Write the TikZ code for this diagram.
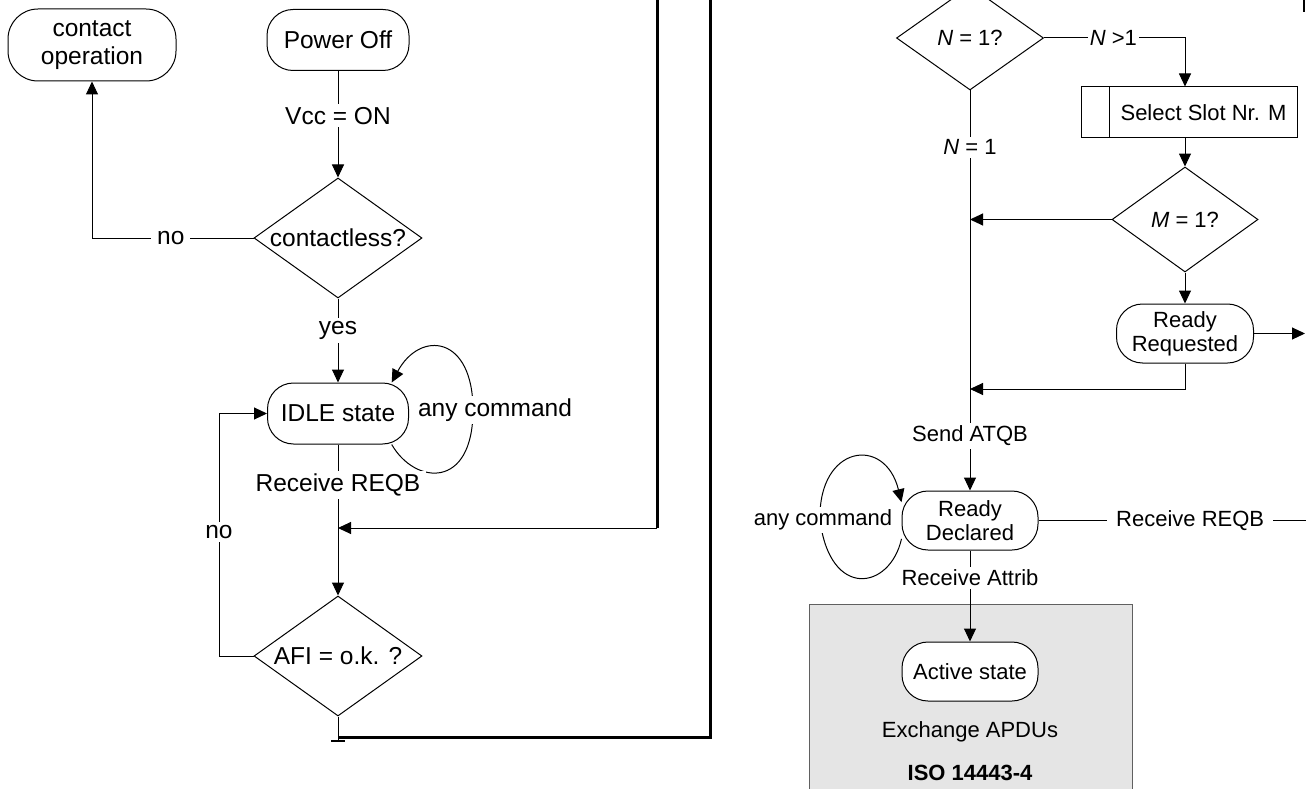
\documentclass[tikz,border=0pt]{standalone}
\usepackage{fontspec}
\setmainfont{Liberation Sans}
\usetikzlibrary{shapes.geometric,arrows.meta,calc}

\begin{document}
\begin{tikzpicture}[x=1pt,y=-1pt,
  line width=1pt,
  big/.style={font=\fontsize{24.5}{28}\selectfont},
  small/.style={font=\fontsize{22}{24}\selectfont},
  state/.style={draw, rounded corners=26pt, align=center, inner sep=0pt},
  dec/.style={draw, diamond, inner sep=0pt},
  lbl/.style={fill=white, inner xsep=6pt, inner ysep=3pt},
  arr/.style={-{Triangle[length=13pt,width=12pt]}},
  heavy/.style={line width=3pt}
]
\useasboundingbox (0,0) rectangle (1306,789);

% ---------------- left column ----------------
\node[state, big, minimum width=168pt, minimum height=72pt, rounded corners=30pt] (co) at (92,45) {contact\\operation};
\node[state, big, minimum width=142pt, minimum height=61pt] (po) at (338,40) {Power Off};
\node[dec, minimum width=168pt, minimum height=120pt] (cl) at (338,238) {};
\node[big] (clt) at (cl) {contactless?};
\node[state, big, minimum width=141pt, minimum height=61pt] (idle) at (338,413.5) {IDLE state};
\node[dec, minimum width=168pt, minimum height=120pt] (afi) at (338,656) {};
\node[big] (afit) at (afi) {AFI = o.k. ?};

\coordinate (nl) at (219,656);
\coordinate (jA) at (338,528);
\coordinate (cA) at (657,528);
\coordinate (offA) at (657,0);
\coordinate (offB) at (710,0);
\coordinate (ret) at (338,737);
\coordinate (gnd) at (338,741);

\draw[arr] (po) -- node[lbl, big, pos=0.42] {Vcc = ON} (cl);
\draw[arr] (cl.west) -| node[lbl, big, pos=0.256] {no} (co.south);
\draw[arr] (cl.south) -- node[lbl, big, pos=0.38] {yes} (idle.north);
\draw[arr] (idle.-30) .. controls (415,485) and (473,490) .. (473,410)
  node[lbl, big, inner xsep=2pt] (anyc) at (495,410) {any command}
  .. controls (473,335) and (420,330) .. (idle.30);
\draw[arr] (idle.south) -- node[lbl, big, pos=0.27] {Receive REQB} (afi.north);
\draw[arr] (afi.west) -- (nl) |- node[lbl, big, pos=0.256, inner xsep=2pt] {no} (idle.west);
\draw (afi.south) -- (gnd);
\draw[line width=2pt] ([xshift=-7pt]gnd) -- ([xshift=7pt]gnd);
\draw[heavy] (ret) -| (offB);
\draw[heavy] (offA) -- (cA);
\draw[arr] (cA) -- (jA);

% ---------------- right column ----------------
\fill[gray!20] (809,604) rectangle (1132,800);
\draw[gray!75!black] (809,800) -- (809,604) -- (1132,604) -- (1132,800);

\node[dec, minimum width=147pt, minimum height=104pt] (nq) at (970,38) {};
\node[small] (nqt) at (nq) {\textit{N} = 1?};
\node[draw, small, minimum width=216pt, minimum height=51pt, inner sep=0pt] (sel) at (1189,112.5)
  {\hspace*{29pt}Select Slot Nr. M};
\draw ([xshift=29pt]sel.north west) -- ([xshift=29pt]sel.south west);
\node[dec, minimum width=146pt, minimum height=105pt] (mq) at (1185,219.5) {};
\node[small] (mqt) at (mq) {\textit{M} = 1?};
\node[state, small, minimum width=137pt, minimum height=59pt] (rr) at (1185,333.5) {Ready\\Requested};
\node[state, small, minimum width=136pt, minimum height=59pt] (rd) at (970,520.5) {Ready\\Declared};
\node[state, small, fill=white, minimum width=136pt, minimum height=59pt] (as) at (970,671.5) {Active state};
\node[small] (apdu) at (970,732) {Exchange APDUs};
\node[small, font=\fontsize{22}{24}\selectfont\bfseries] (iso) at (970,773) {ISO 14443-4};

\coordinate (j1) at (970,219.5);
\coordinate (j2) at (970,389);
\coordinate (offR) at (1305,333.5);
\coordinate (offD) at (1306,520.5);

\draw[arr] (nq.east) -| node[lbl, small, pos=0.246, inner xsep=2pt] {\textit{N} >1} ([xshift=-4pt]sel.north);
\draw[arr] ([xshift=-4pt]sel.south) -- (mq.north);
\draw[arr] (mq.west) -- (j1);
\draw[arr] (mq.south) -- (rr.north);
\draw[arr] (rr.east) -- (offR);
\draw[arr] (rr.south) |- (j2);
\draw[arr] (nq.south) -- node[lbl, small, pos=0.142] {\textit{N} = 1}
  node[lbl, small, pos=0.863] {Send ATQB} (rd.north);
\draw[arr] (rd.195) .. controls (890,590) and (830,600) .. (820,520)
  node[lbl, small, inner xsep=3pt] (anyd) at (823,520) {any command}
  .. controls (818,445) and (885,435) .. (rd.165);
\draw (rd.east) -- node[lbl, small, pos=0.567, inner xsep=9pt] {Receive REQB} (offD);
\draw[arr] (rd.south) -- node[lbl, small, pos=0.30, fill=white] {Receive Attrib} (as.north);

% fragment at the upper right edge
\draw[line width=1.5pt] (1304,0) -- (1304,12);
\end{tikzpicture}
\end{document}
